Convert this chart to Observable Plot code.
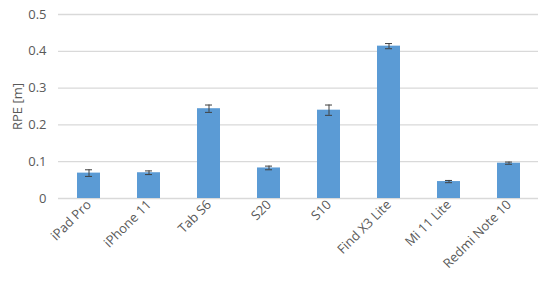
<!DOCTYPE html>
<html><head><meta charset="utf-8">
<script src="https://cdn.jsdelivr.net/npm/d3@7"></script>
<script src="https://cdn.jsdelivr.net/npm/@observablehq/plot@0.6"></script>
<style>body{margin:0;background:#fff}</style>
</head><body><div id="chart"></div>
<script>
const devices = ["iPad Pro","iPhone 11","Tab S6","S20","S10","Find X3 Lite","Mi 11 Lite","Redmi Note 10"];
const rpe = [0.069,0.070,0.244,0.083,0.240,0.414,0.046,0.096];
const err = [0.009,0.005,0.010,0.005,0.014,0.007,0.003,0.003];
const yTicks = [0,0.1,0.2,0.3,0.4,0.5];
const data = devices.map((d,i)=>({device:d, value:rpe[i], lo:rpe[i]-err[i], hi:rpe[i]+err[i]}));
const chart = Plot.plot({
  width:550, height:283,
  marginTop:14, marginBottom:85, marginLeft:58, marginRight:12,
  style:{fontFamily:"'Open Sans', sans-serif", fontSize:"13px", color:"#595959", background:"#fff"},
  x:{domain:devices, paddingInner:0.62, paddingOuter:0.31, tickRotate:-45, tickSize:0, tickPadding:4, label:null},
  y:{domain:[0,0.5], ticks:yTicks, tickFormat:d=>d===0?"0":d3.format(".1f")(d), tickSize:0, tickPadding:12, label:"RPE [m]", labelAnchor:"center", labelArrow:"none", labelOffset:46},
  marks:[
    Plot.ruleY(yTicks,{stroke:"#d9d9d9", strokeWidth:1.3}),
    Plot.barY(data,{x:"device", y:"value", fill:"#5b9bd5"}),
    Plot.ruleX(data,{x:"device", y1:"lo", y2:"hi", stroke:"#404040", strokeWidth:1}),
    Plot.tickY(data,{x:"device", y:"lo", stroke:"#404040", strokeWidth:1, insetLeft:8, insetRight:8}),
    Plot.tickY(data,{x:"device", y:"hi", stroke:"#404040", strokeWidth:1, insetLeft:8, insetRight:8})
  ]
});
document.getElementById("chart").append(chart);
</script>
</body></html>
